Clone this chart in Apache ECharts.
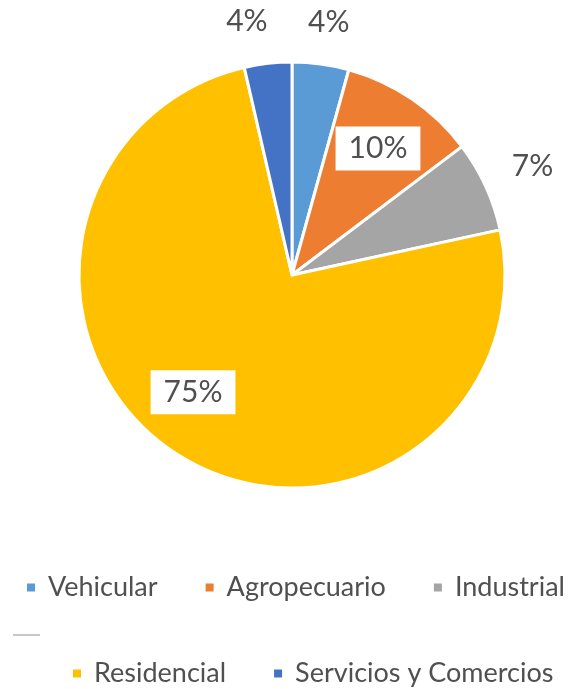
<!DOCTYPE html>
<html>
<head>
<meta charset="utf-8">
<script src="https://cdn.jsdelivr.net/npm/echarts@6/dist/echarts.min.js"></script>
<style>
html,body{margin:0;padding:0;background:#fff;}
#chart{width:574px;height:689px;}
</style>
</head>
<body>
<div id="chart"></div>
<script>
// ---- data ----
const categories = ['Vehicular', 'Agropecuario', 'Industrial', 'Residencial', 'Servicios y Comercios'];
const values = [4.3, 10.4, 6.9, 74.8, 3.6];
const legendRow1 = ['Vehicular', 'Agropecuario', 'Industrial'];
const legendRow2 = ['Residencial', 'Servicios y Comercios'];
const insideLabelled = ['Agropecuario', 'Residencial'];
const outsideLabelled = ['Vehicular', 'Industrial', 'Servicios y Comercios'];

// ---- style ----
const colors = ['#5B9BD5', '#ED7D31', '#A5A5A5', '#FFC000', '#4472C4'];
const textColor = '#505050';
const font = 'Lato';
const center = [292, 275];
const R = 213;
const nudges = { // small label nudges (px), like manually placed Excel labels
  'Residencial': [-17, -12],
  'Vehicular': [2, 3],
  'Industrial': [6, -1],
  'Servicios y Comercios': [-16, 3]
};

const pieData = categories.map((c, i) => ({ name: c, value: values[i], itemStyle: { color: colors[i] } }));
const fmt = p => Math.round(p.percent) + '%';

function helperData(shown) {
  return categories.map((c, i) => ({
    name: c, value: values[i],
    itemStyle: { color: 'rgba(0,0,0,0)' },
    label: { show: shown.indexOf(c) >= 0 }
  }));
}
function nudgeLayout(params) {
  const n = nudges[categories[params.dataIndex]];
  return n ? { dx: n[0], dy: n[1] } : {};
}

const legendText = { fontFamily: font, fontSize: 27, color: textColor, padding: [0, 0, 0, 7] };

const chart = echarts.init(document.getElementById('chart'), null, { renderer: 'canvas' });
chart.setOption({
  animation: false,
  backgroundColor: '#fff',
  legend: [
    {
      data: legendRow1, left: 25, top: 574, orient: 'horizontal', padding: 0,
      icon: 'rect', itemWidth: 10, itemHeight: 10, itemGap: 46,
      textStyle: legendText, selectedMode: false
    },
    {
      data: legendRow2, left: 71, top: 660, orient: 'horizontal', padding: 0,
      icon: 'rect', itemWidth: 10, itemHeight: 10, itemGap: 46,
      textStyle: legendText, selectedMode: false
    }
  ],
  graphic: [{
    type: 'line', shape: { x1: 13, y1: 635, x2: 40, y2: 635 },
    style: { stroke: '#c8c8c8', lineWidth: 2 }, silent: true
  }],
  series: [
    {
      type: 'pie', center: center, radius: [0, R], startAngle: 90, clockwise: true,
      data: pieData, label: { show: false }, labelLine: { show: false },
      itemStyle: { borderColor: '#fff', borderWidth: 3 },
      emphasis: { disabled: true }, silent: true, avoidLabelOverlap: false
    },
    {
      type: 'pie', center: center, radius: [0, 300], startAngle: 90, clockwise: true,
      data: helperData(insideLabelled), silent: true, legendHoverLink: false,
      emphasis: { disabled: true }, avoidLabelOverlap: false,
      label: {
        position: 'inside', formatter: fmt, fontFamily: font, fontSize: 30, color: textColor,
        backgroundColor: '#fff', padding: [7, 13, 7, 13], lineHeight: 30
      },
      labelLine: { show: false },
      labelLayout: nudgeLayout
    },
    {
      type: 'pie', center: center, radius: [0, 510], startAngle: 90, clockwise: true,
      data: helperData(outsideLabelled), silent: true, legendHoverLink: false,
      emphasis: { disabled: true }, avoidLabelOverlap: false,
      label: {
        position: 'inside', formatter: fmt, fontFamily: font, fontSize: 30, color: textColor, lineHeight: 30
      },
      labelLine: { show: false },
      labelLayout: nudgeLayout
    }
  ]
});
</script>
</body>
</html>
